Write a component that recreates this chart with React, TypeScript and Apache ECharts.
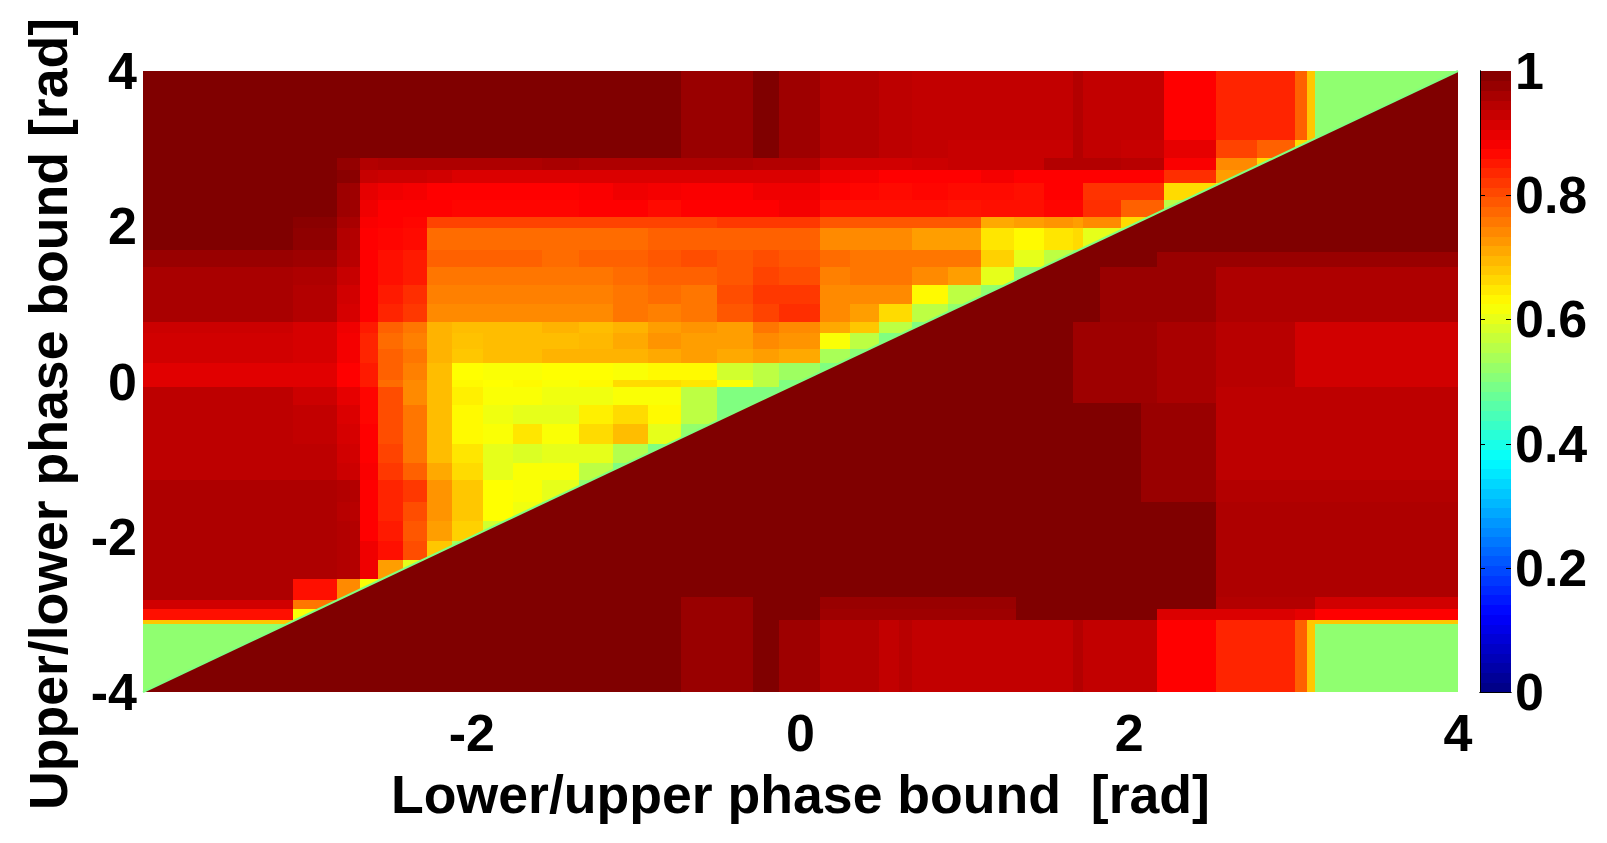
import React, { useEffect, useRef } from "react";
import * as echarts from "echarts";

const xTitle = "Lower/upper phase bound  [rad]";
const yTitle = "Upper/lower phase bound [rad]";

// Column and row edges of the readings above the diagonal (rad)
const xEdges = [-4, -3.09, -2.82, -2.68, -2.57, -2.42, -2.27, -2.12, -1.93, -1.75, -1.57, -1.35, -1.14, -0.93, -0.73, -0.51, -0.29, -0.13, 0.12, 0.3, 0.48, 0.68, 0.9, 1.1, 1.3, 1.48, 1.66, 1.72, 1.95, 2.21, 2.53, 2.78, 3.01, 3.08, 3.13, 4];
const yEdges = [4, 3.11, 2.88, 2.73, 2.56, 2.34, 2.12, 1.98, 1.7, 1.48, 1.24, 1.0, 0.77, 0.63, 0.42, 0.24, 0.02, -0.07, -0.3, -0.55, -0.8, -1.05, -1.27, -1.55, -1.8, -2.05, -2.3, -2.55, -2.81, -2.93, -3.07, -3.12, -4];

// Readings in percent, top row first; each row stops at the diagonal
const upperRows = [
  [100, 100, 100, 100, 100, 100, 100, 100, 100, 100, 100, 100, 100, 100, 97.5, 97.5, 100, 97, 95, 95, 94, 93.5, 93.5, 93.5, 93.5, 93.5, 95, 93.5, 93.5, 87.5, 84, 84, 78, 68, 51.6],
  [100, 100, 100, 100, 100, 100, 100, 100, 100, 100, 100, 100, 100, 100, 97.5, 97.5, 100, 97, 95, 95, 94, 93.5, 93, 93, 93, 93, 95, 93.5, 93, 90, 81, 78, 66, 58],
  [100, 100, 98, 95, 95.5, 95.5, 95.5, 95.5, 95.5, 95.5, 96, 95.5, 95.5, 95.5, 95.5, 95.5, 95, 95, 92, 92, 92, 92.5, 93, 93, 93, 95, 95, 95, 94.5, 88, 74, 66],
  [100, 100, 99, 93, 92.5, 92.5, 92, 91, 91, 91, 91, 91, 91, 91, 91, 91, 91, 91, 89, 88.5, 87.5, 87.5, 87.5, 88.5, 87.5, 87.5, 87.5, 87.5, 87.5, 83, 72],
  [100, 100, 97, 90, 89, 88.5, 87.5, 87.5, 87.5, 87.5, 87.5, 88, 89, 88.5, 88, 88, 89, 89, 87.5, 87, 86.5, 87, 86.5, 86.5, 86, 87.5, 87.5, 82.5, 82.5, 66, 62],
  [100, 100, 97, 89, 87.5, 87.5, 87.5, 87, 87, 87, 87, 87.5, 87.5, 86.5, 87.5, 87.5, 87.5, 88.5, 86, 86, 86, 86, 85.5, 86, 86, 87, 87, 83, 78, 56],
  [100, 99, 96, 88, 87.5, 87, 81, 81, 81, 81, 81, 81, 81, 81, 81, 82, 82, 82, 79, 79, 79, 79, 79, 71, 72, 73, 72, 74, 66],
  [100, 98.5, 95, 87.5, 87, 86.5, 77, 77, 77, 77, 77, 77, 77, 78, 78, 78, 78, 78, 74, 74, 74, 72, 72, 65, 63, 65, 66, 60, 56],
  [97.5, 97, 94.5, 87.5, 86, 85, 78, 78, 78, 78, 77, 78, 78, 79, 80, 79, 80, 79, 77, 76, 76, 76, 76, 67, 60, 56, 53],
  [96, 95.5, 93, 87.5, 86, 85, 76, 76, 76, 76, 76, 76, 77, 78, 78, 79, 81, 80, 75, 76, 76, 74, 72, 60, 52],
  [96, 95, 92, 87.5, 85, 83, 75, 75, 75, 75, 75, 75, 76, 77, 76, 80, 82, 82, 74, 74, 74, 63, 56, 52],
  [96, 95, 91.5, 87.5, 84, 82, 74, 74, 74, 74, 74, 74, 76, 75, 76, 79, 81, 83, 74, 72, 66, 56, 52],
  [92.5, 91.5, 89, 85, 78, 76, 70, 69, 69, 69, 70, 69, 70, 72, 73, 72, 76, 74, 71, 68, 56, 50],
  [92, 91.5, 88.5, 84, 77, 75, 70, 68.5, 69, 69, 69, 69.5, 71, 73, 72, 72, 74, 73, 62, 56, 50],
  [92, 91.5, 88.5, 84, 78, 76, 70, 68, 69, 69, 70, 70, 70, 71, 72, 71, 72, 71, 54, 51],
  [90.5, 90.5, 87.5, 85, 78, 75, 69, 62.5, 62, 62, 62.5, 62.5, 62, 63, 63, 58, 56, 53, 50],
  [90.5, 90.5, 87.5, 85, 77, 74, 69, 63, 62.5, 63, 62, 63, 66, 66, 65, 62, 56, 50],
  [94, 92.5, 90, 87, 80, 74, 69, 64, 62, 62, 61, 61, 62, 62, 56, 50, 50, 50],
  [94, 93.5, 91, 87, 80, 76, 69, 63, 61, 60, 60, 64, 66, 63, 56, 50, 50],
  [94, 93.5, 91.5, 87.5, 80, 76, 69, 63, 62, 65, 62, 66, 69, 60, 52, 50],
  [94, 94, 92, 87.5, 81, 76, 69, 65, 60, 59, 60, 60, 55, 50],
  [94, 94, 92.5, 88, 82, 78, 71, 66, 60, 62, 62, 56, 50],
  [95.5, 95.5, 95, 87.5, 84, 82, 73, 68, 62.5, 62, 60, 52],
  [95.5, 95.5, 94.5, 87.5, 84, 80, 73, 68, 62.5, 61, 52],
  [95.5, 95.5, 95, 87.5, 85, 79, 72, 67, 58],
  [95.5, 95.5, 95, 89, 86, 80, 68, 54],
  [95.5, 95.5, 95, 89, 72, 60],
  [95.5, 86, 74, 62, 55],
  [92, 76, 60],
  [86, 62],
  [68, 60],
  [51.6],
];

// Readings below the diagonal; 100 means the triangle's own colour shows
const lowerXEdges = [-0.73, -0.29, -0.13, 0.12, 0.48, 0.6, 0.68, 1.31, 1.66, 1.72, 1.82, 2.07, 2.17, 2.53, 3.01, 3.08, 3.13, 4];
const lowerYEdges = [1.67, 1.48, 0.77, -0.07, -0.28, -1.27, -1.55, -2.78, -2.93, -3.07, -3.12, -4];
const lowerRows = [
  [100, 100, 100, 100, 100, 100, 100, 100, 100, 100, 100, 100, 97.5, 97.5, 97.5, 97.5, 97.5],
  [100, 100, 100, 100, 100, 100, 100, 100, 100, 100, 97.5, 97.5, 97.5, 95.5, 95.5, 95.5, 95.5],
  [100, 100, 100, 100, 100, 100, 100, 100, 97, 97, 97, 97, 96, 94.5, 92, 92, 92],
  [100, 100, 100, 100, 100, 100, 100, 100, 97, 97, 97, 97, 96, 94, 94, 94, 94],
  [100, 100, 100, 100, 100, 100, 100, 100, 100, 100, 100, 97.5, 97.5, 94, 94, 94, 94],
  [100, 100, 100, 100, 100, 100, 100, 100, 100, 100, 100, 97.5, 97.5, 95, 95, 95, 95],
  [100, 100, 100, 100, 100, 100, 100, 100, 100, 100, 100, 100, 100, 95.5, 95.5, 95.5, 95.5],
  [97.5, 100, 100, 97.5, 97.5, 97.5, 97.5, 100, 100, 100, 100, 100, 100, 95, 95, 95, 92],
  [97.5, 100, 100, 97, 97, 97, 97, 100, 100, 100, 100, 100, 91, 91, 90, 90, 87.5],
  [97.5, 100, 97, 95, 93.5, 94.5, 93.5, 93.5, 95, 93.5, 93.5, 93.5, 87.5, 84, 78, 68, 68],
  [97.5, 100, 97, 95, 93.5, 94.5, 93.5, 93.5, 95, 93.5, 93.5, 93.5, 87.5, 84, 78, 68, 51.6],
];

const triangle = [[-4, 4, -4, 4, 1]];
const diagonal = [[-4, -4], [4, 4]];

// The 64 levels of the colour bar, and its tick values
const barLevels = [0.008, 0.023, 0.039, 0.055, 0.07, 0.086, 0.102, 0.117, 0.133, 0.148, 0.164, 0.18, 0.195, 0.211, 0.227, 0.242, 0.258, 0.273, 0.289, 0.305, 0.32, 0.336, 0.352, 0.367, 0.383, 0.398, 0.414, 0.43, 0.445, 0.461, 0.477, 0.492, 0.508, 0.523, 0.539, 0.555, 0.57, 0.586, 0.602, 0.617, 0.633, 0.648, 0.664, 0.68, 0.695, 0.711, 0.727, 0.742, 0.758, 0.773, 0.789, 0.805, 0.82, 0.836, 0.852, 0.867, 0.883, 0.898, 0.914, 0.93, 0.945, 0.961, 0.977, 0.992];
const barTicks = [0.2, 0.4, 0.6, 0.8];
const jet = ["#000080", "#0000ff", "#0080ff", "#00ffff", "#80ff80", "#ffff00", "#ff8000", "#ff0000", "#800000"];

const FONT = "'Liberation Sans', Arial, sans-serif";

function cells(xs: number[], ys: number[], rows: number[][], skipFull: boolean) {
  const out: number[][] = [];
  rows.forEach((row, r) =>
    row.forEach((v, c) => {
      if (skipFull && v === 100) return;
      out.push([xs[c], xs[c + 1], ys[r + 1], ys[r], v / 100]);
    })
  );
  return out;
}

const renderCell = (_: any, api: any) => {
  const a = api.coord([api.value(0), api.value(3)]);
  const b = api.coord([api.value(1), api.value(2)]);
  const x0 = Math.round(a[0]);
  const y0 = Math.round(a[1]);
  return {
    type: "rect",
    shape: { x: x0, y: y0, width: Math.round(b[0]) - x0, height: Math.round(b[1]) - y0 },
    style: { fill: api.visual("color") },
  };
};

const renderBarCell = (_: any, api: any) => {
  const a = api.coord([api.value(0), api.value(3)]);
  const b = api.coord([api.value(1), api.value(2)]);
  const y0 = Math.floor(a[1]);
  return {
    type: "rect",
    shape: { x: a[0], y: y0, width: b[0] - a[0], height: Math.ceil(b[1]) - y0 },
    style: { fill: api.visual("color") },
  };
};

const renderTriangle = (_: any, api: any) => {
  const p = api.coord([api.value(0), api.value(2)]);
  const q = api.coord([api.value(1), api.value(3)]);
  const r = api.coord([api.value(1), api.value(2)]);
  return {
    type: "polygon",
    shape: { points: [p, q, r] },
    style: { fill: api.visual("color") },
  };
};

const renderBarTick = (_: any, api: any) => {
  const t = api.value(1);
  const l0 = api.coord([0, t]);
  const l1 = api.coord([1, t]);
  const y = Math.round(l0[1]) + 0.5;
  const stroke = { stroke: "#000", lineWidth: 1 };
  return {
    type: "group",
    children: [
      { type: "line", shape: { x1: l0[0], y1: y, x2: l0[0] + 5, y2: y }, style: stroke },
      { type: "line", shape: { x1: l1[0] - 5, y1: y, x2: l1[0], y2: y }, style: stroke },
    ],
  };
};

const cellEncode = { x: [0, 1], y: [2, 3] };
const hairline = { show: true, lineStyle: { color: "#000", width: 1 } };

export default function App() {
  const ref = useRef<HTMLDivElement>(null);
  useEffect(() => {
    const chart = echarts.init(ref.current!, undefined, { renderer: "svg" });
    const labelStyle = { color: "#000", fontFamily: FONT, fontWeight: "bold" as const, fontSize: 52 };
    const titleStyle = { ...labelStyle, fontSize: 53.6 };
    chart.setOption({
      animation: false,
      backgroundColor: "#fff",
      grid: [
        { left: 143, top: 71, width: 1315, height: 621 },
        { left: 1480, top: 71, width: 31, height: 621 },
      ],
      xAxis: [
        {
          gridIndex: 0, type: "value", min: -4, max: 4, interval: 2,
          axisLine: { show: false }, axisTick: { show: false }, splitLine: { show: false },
          axisLabel: { ...labelStyle, margin: 15, showMinLabel: false, formatter: (v: number) => (v === -4 ? "" : String(v)) },
          name: xTitle, nameLocation: "middle", nameGap: 75,
          nameTextStyle: titleStyle,
        },
        { gridIndex: 1, type: "value", min: 0, max: 1, position: "bottom", z: 5, axisLine: hairline, axisTick: { show: false }, axisLabel: { show: false }, splitLine: { show: false } },
        { gridIndex: 1, type: "value", min: 0, max: 1, position: "top", z: 5, axisLine: hairline, axisTick: { show: false }, axisLabel: { show: false }, splitLine: { show: false } },
      ],
      yAxis: [
        {
          gridIndex: 0, type: "value", min: -4, max: 4, interval: 2,
          axisLine: { show: false }, axisTick: { show: false }, splitLine: { show: false },
          axisLabel: { ...labelStyle, margin: 6, padding: [10, 0, 0, 0] },
        },
        {
          gridIndex: 1, type: "value", min: 0, max: 1, interval: 0.2, position: "right", z: 5,
          axisLine: hairline, splitLine: { show: false }, axisTick: { show: false },
          axisLabel: { ...labelStyle, margin: 4, padding: [10, 0, 0, 0], formatter: (v: number) => String(Math.round(v * 10) / 10) },
        },
        {
          gridIndex: 1, type: "value", min: 0, max: 1, interval: 0.2, position: "left", z: 5,
          axisLine: hairline, splitLine: { show: false }, axisTick: { show: false },
          axisLabel: { show: false },
        },
      ],
      visualMap: { show: false, type: "continuous", min: 0, max: 1, dimension: 4, seriesIndex: [0, 1, 2, 4], inRange: { color: jet } },
      series: [
        { type: "custom", xAxisIndex: 0, yAxisIndex: 0, clip: true, renderItem: renderCell, encode: cellEncode, data: cells(xEdges, yEdges, upperRows, false) },
        { type: "custom", xAxisIndex: 0, yAxisIndex: 0, clip: true, renderItem: renderTriangle, encode: cellEncode, data: triangle },
        { type: "custom", xAxisIndex: 0, yAxisIndex: 0, clip: true, renderItem: renderCell, encode: cellEncode, data: cells(lowerXEdges, lowerYEdges, lowerRows, true) },
        { type: "line", xAxisIndex: 0, yAxisIndex: 0, showSymbol: false, symbol: "none", clip: true, lineStyle: { color: "#80ff80", width: 2 }, data: diagonal },
        { type: "custom", xAxisIndex: 1, yAxisIndex: 1, clip: true, renderItem: renderBarCell, encode: cellEncode, data: barLevels.map((l) => [0, 1, l - 0.0078, l + 0.0078, l]), z: 1 },
        { type: "custom", xAxisIndex: 1, yAxisIndex: 1, clip: false, renderItem: renderBarTick, encode: { x: 0, y: 1 }, data: barTicks.map((t) => [0, t]), z: 3 },
      ],
      graphic: [
        {
          type: "text", x: 48, y: 414, rotation: Math.PI / 2,
          style: { text: yTitle, fill: "#000", font: `bold 53.6px ${FONT}`, align: "center", verticalAlign: "middle" },
        },
      ],
    });
    return () => chart.dispose();
  }, []);
  return <div ref={ref} style={{ position: "fixed", left: 0, top: 0, width: 1607, height: 843 }} />;
}
